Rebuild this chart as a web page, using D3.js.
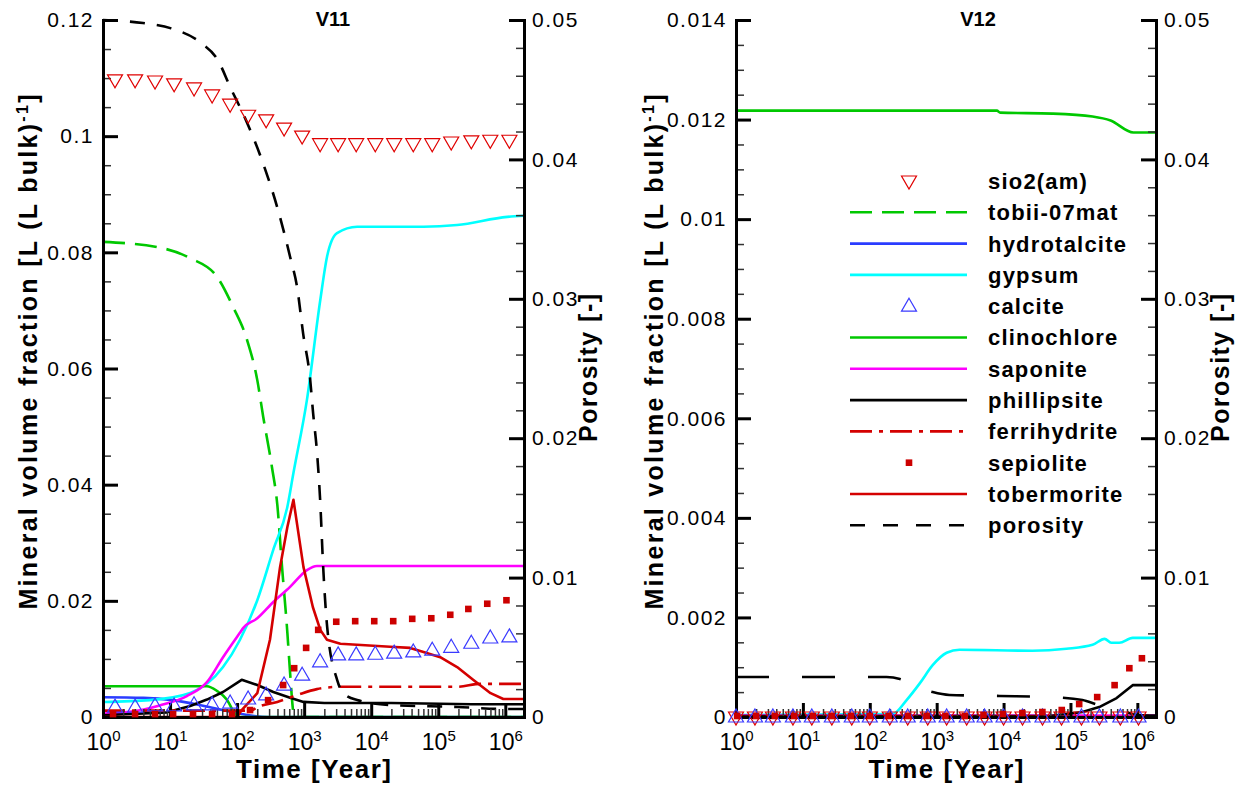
<!DOCTYPE html>
<html>
<head>
<meta charset="utf-8">
<script src="https://cdn.jsdelivr.net/npm/d3@7"></script>
<style>
  body { margin: 0; background: #fff; }
  svg { display: block; }
  text { font-family: 'Liberation Sans', Arial, Helvetica, sans-serif; fill: #000; }
</style>
</head>
<body>
<svg id="chart" width="1253" height="787"></svg>
<script>
// ---------------- V11 ----------------
const v11MarkerYears = [1.51, 3.01, 5.97, 11.5, 22.8, 42.4, 78.7, 146, 271, 502, 933, 1730, 3210, 5970, 11500, 22000, 42400, 81300, 156000, 311000, 597000, 1150000];
const v11Sio2 = [0.1097, 0.1097, 0.1095, 0.1090, 0.1083, 0.1071, 0.1055, 0.1036, 0.1028, 0.1014, 0.1000, 0.0987, 0.0987, 0.0987, 0.0987, 0.0987, 0.0987, 0.0987, 0.0990, 0.0992, 0.0993, 0.0993];
const v11Calcite = [0.0017, 0.0017, 0.0019, 0.0019, 0.0021, 0.0021, 0.0024, 0.0031, 0.0038, 0.0055, 0.0072, 0.0095, 0.0107, 0.0107, 0.0108, 0.0110, 0.0112, 0.0115, 0.0120, 0.0127, 0.0136, 0.0138];
const v11SepioliteYears = [1.41, 3.01, 5.97, 11.1, 22.0, 42.4, 84.1, 156, 290, 486, 710, 1070, 1620, 3010, 5770, 11100, 21300, 40900, 78700, 151000, 281000, 538000, 1040000];
const v11Sepiolite = [0.0005, 0.0005, 0.0005, 0.0005, 0.0005, 0.0005, 0.0005, 0.0012, 0.0029, 0.0055, 0.0084, 0.0119, 0.0150, 0.0164, 0.0165, 0.0165, 0.0165, 0.0169, 0.0170, 0.0176, 0.0186, 0.0195, 0.0201];

const v11TobiiYears = [1, 6.46, 20, 50.1, 87.1, 141, 200, 245, 331, 398, 468, 562, 617, 692, 724, 1900000];
const v11Tobii = [0.0818, 0.0809, 0.0790, 0.0758, 0.0706, 0.0649, 0.0580, 0.0517, 0.0430, 0.0365, 0.0258, 0.0145, 0.0076, 0.0007, 0, 0];
const v11HydroYears = [1, 4, 11, 35, 90, 150, 300, 1900000];
const v11Hydro = [0.0034, 0.0033, 0.0029, 0.0018, 0.0008, 0.0003, 0, 0];
const v11GypsumYears = [1, 5, 20, 61.7, 110, 200, 347, 562, 692, 1100, 1740, 2190, 3090, 6170, 60300, 191000, 1070000, 1900000];
const v11Gypsum = [0.00258, 0.0029, 0.00413, 0.0086, 0.01326, 0.0201, 0.0288, 0.0362, 0.0420, 0.0546, 0.0718, 0.0792, 0.0833, 0.0844, 0.0844, 0.0847, 0.0861, 0.0863];
const v11ClinoYears = [1, 35.5, 50, 70, 93, 100, 1900000];
const v11Clino = [0.0053, 0.0053, 0.0045, 0.0030, 0.0005, 0, 0];
const v11SaponiteYears = [1, 2.51, 7, 17.8, 35.5, 61.7, 110, 123, 200, 347, 617, 1100, 1550, 1900000];
const v11Saponite = [0.0006, 0.0009, 0.0020, 0.0036, 0.0060, 0.0103, 0.0145, 0.0153, 0.0170, 0.0198, 0.0224, 0.0253, 0.0260, 0.0260];
const v11PhilYears = [1, 9, 20, 35.5, 61.7, 117, 200, 347, 617, 977, 2000, 20000, 316000, 1900000];
const v11Phil = [0.0003, 0.0008, 0.0019, 0.0030, 0.0043, 0.0064, 0.0055, 0.0043, 0.0033, 0.0026, 0.0024, 0.0024, 0.0022, 0.0022];
const v11FerriYears = [1, 160, 200, 398, 794, 1550, 3470, 191000, 427000, 1900000];
const v11Ferri = [0.0011, 0.0011, 0.0017, 0.0026, 0.0038, 0.0048, 0.0052, 0.0052, 0.0057, 0.0057];
const v11TobermYears = [1, 100, 117, 200, 309, 437, 562, 692, 977, 1350, 1740, 2190, 3470, 19100, 38000, 60300, 107000, 191000, 331000, 603000, 933000, 1900000];
const v11Toberm = [0, 0, 0.0012, 0.0041, 0.0133, 0.0258, 0.0327, 0.0374, 0.0258, 0.0189, 0.0150, 0.0133, 0.0126, 0.0121, 0.0119, 0.0112, 0.0103, 0.0086, 0.0064, 0.0041, 0.0031, 0.0031];
const v11PorosityYears = [1, 3.95, 10.4, 28.1, 52.0, 78.7, 136, 253, 395, 618, 787, 966, 1230, 1360, 1560, 1730, 1920, 2200, 3110, 3820, 6180, 19200, 192000, 1000000, 1900000];
const v11Porosity = [0.0500, 0.04978, 0.0494, 0.0484, 0.0471, 0.0452, 0.0428, 0.0395, 0.0366, 0.0330, 0.0308, 0.0275, 0.0242, 0.0218, 0.0189, 0.0156, 0.0108, 0.0065, 0.00265, 0.00172, 0.00122, 0.00086, 0.00072, 0.00057, 0.00057];

// ---------------- V12 ----------------
const v12MarkerYears = [1.0, 1.92, 3.56, 7.10, 13.6, 27.1, 53.8, 100, 199, 369, 735, 1410, 2810, 5200, 10000, 19200, 38200, 73500, 146000, 271000, 557000, 1040000];
const v12Sio2 = [0, 0, 0, 0, 0, 0, 0, 0, 0, 0, 0, 0, 0, 0, 0, 0, 0, 0, 0, 0, 0, 0];
const v12Calcite = [0, 0, 0, 0, 0, 0, 0, 0, 0, 0, 0, 0, 0, 0, 0, 0, 0, 0, 0, 0, 0, 0];
const v12SepioliteYears = [1.04, 2.0, 3.8, 7.4, 14.1, 26.9, 52.5, 100, 191, 372, 708, 1350, 2630, 5010, 9770, 19100, 38000, 74100, 135000, 251000, 457000, 759000, 1170000];
const v12Sepiolite = [0.00002, 0.00002, 0.00002, 0.00002, 0.00002, 0.00002, 0.00002, 0.00002, 0.00002, 0.00002, 0.00002, 0.00002, 0.00002, 0.00004, 0.00006, 0.00008, 0.0001, 0.00014, 0.00026, 0.0004, 0.00064, 0.00098, 0.00118];

const v12ZeroYears = [1, 1900000];
const v12Zero = [0, 0];
const v12Saponite = [0.00003, 0.00003];
const v12GypsumYears = [1, 219, 355, 562, 871, 1410, 2190, 26900, 87100, 214000, 324000, 407000, 537000, 851000, 1900000];
const v12Gypsum = [0.00004, 0.00006, 0.00034, 0.00068, 0.00104, 0.00129, 0.00135, 0.00133, 0.00137, 0.00145, 0.00157, 0.00149, 0.00149, 0.00159, 0.00159];
const v12ClinoYears = [1, 7940, 8900, 53700, 214000, 398000, 871000, 1900000];
const v12Clino = [0.01218, 0.01218, 0.01214, 0.01212, 0.01206, 0.01198, 0.01174, 0.01174];
const v12PhilYears = [1, 49000, 151000, 269000, 490000, 851000, 1900000];
const v12Phil = [0.00002, 0.00002, 0.0001, 0.0002, 0.00038, 0.00064, 0.00064];
const v12PorosityYears = [1, 178, 282, 437, 871, 1550, 8710, 49000, 151000, 269000, 490000, 977000, 1900000];
const v12Porosity = [0.00287, 0.00287, 0.00273, 0.00230, 0.00179, 0.00158, 0.00151, 0.00143, 0.00122, 0.00086, 0.00065, 0.00014, 0.0001];

// ---------------- axes ----------------
const timeTicks = [1, 10, 100, 1000, 10000, 100000, 1000000];
const timeExponents = ["0", "1", "2", "3", "4", "5", "6"];
const v11MineralTicks = [0, 0.02, 0.04, 0.06, 0.08, 0.1, 0.12];
const v12MineralTicks = [0, 0.002, 0.004, 0.006, 0.008, 0.01, 0.012, 0.014];
const porosityTicks = [0, 0.01, 0.02, 0.03, 0.04, 0.05];

const FONT = "'Liberation Sans', Arial, Helvetica, sans-serif";
const plotTop = 20, plotBottom = 717;
const timeDomain = [1, 1.9e6];

const pair = (years, values) => years.map((t, i) => ({ t, v: values[i] }));

const seriesStyle = [
  { key: "sio2",      label: "sio2(am)",     kind: "triDown", color: "#e00000" },
  { key: "tobii",     label: "tobii-07mat",  kind: "line",    color: "#00c800", dash: "22,10" },
  { key: "hydro",     label: "hydrotalcite", kind: "line",    color: "#2a3cff" },
  { key: "gypsum",    label: "gypsum",       kind: "line",    color: "#00ffff" },
  { key: "calcite",   label: "calcite",      kind: "triUp",   color: "#3a3aff" },
  { key: "clino",     label: "clinochlore",  kind: "line",    color: "#00c800" },
  { key: "saponite",  label: "saponite",     kind: "line",    color: "#ff00ff" },
  { key: "phil",      label: "phillipsite",  kind: "line",    color: "#000000", sharp: true },
  { key: "ferri",     label: "ferrihydrite", kind: "line",    color: "#d40000", dash: "22,7,4,7" },
  { key: "sepiolite", label: "sepiolite",    kind: "square",  color: "#cc0000" },
  { key: "toberm",    label: "tobermorite",  kind: "line",    color: "#d40000", sharp: true },
  { key: "porosity",  label: "porosity",     kind: "line",    color: "#000000", porosity: true }
];

const panels = [
  {
    title: "V11", titleX: 333, x0: 103, x1: 524, mineralMax: 0.12, mineralTicks: v11MineralTicks, mineralMinorStep: 0.005,
    yTitleX: 37, porTitleX: 597, porDash: "15,12", legend: false,
    data: {
      sio2: pair(v11MarkerYears, v11Sio2),
      tobii: pair(v11TobiiYears, v11Tobii),
      hydro: pair(v11HydroYears, v11Hydro),
      gypsum: pair(v11GypsumYears, v11Gypsum),
      calcite: pair(v11MarkerYears, v11Calcite),
      clino: pair(v11ClinoYears, v11Clino),
      saponite: pair(v11SaponiteYears, v11Saponite),
      phil: pair(v11PhilYears, v11Phil),
      ferri: pair(v11FerriYears, v11Ferri),
      sepiolite: pair(v11SepioliteYears, v11Sepiolite),
      toberm: pair(v11TobermYears, v11Toberm),
      porosity: pair(v11PorosityYears, v11Porosity)
    }
  },
  {
    title: "V12", titleX: 978, x0: 736, x1: 1156, mineralMax: 0.014, mineralTicks: v12MineralTicks, mineralMinorStep: 0.0005,
    yTitleX: 663, porTitleX: 1229, porDash: "33,33", legend: true,
    data: {
      sio2: pair(v12MarkerYears, v12Sio2),
      tobii: pair(v12ZeroYears, v12Zero),
      hydro: pair(v12ZeroYears, v12Zero),
      gypsum: pair(v12GypsumYears, v12Gypsum),
      calcite: pair(v12MarkerYears, v12Calcite),
      clino: pair(v12ClinoYears, v12Clino),
      saponite: pair(v12ZeroYears, v12Saponite),
      phil: pair(v12PhilYears, v12Phil),
      ferri: pair(v12ZeroYears, v12Zero),
      sepiolite: pair(v12SepioliteYears, v12Sepiolite),
      toberm: pair(v12ZeroYears, v12Zero),
      porosity: pair(v12PorosityYears, v12Porosity)
    }
  }
];

const svg = d3.select("#chart");

const triDownPath = "M-7.5,-5L7.5,-5L0,8Z";
const triUpPath = "M0,-8L7.5,5L-7.5,5Z";

function drawMarker(g, kind, color, cx, cy) {
  if (kind === "triDown" || kind === "triUp") {
    g.append("path")
      .attr("d", kind === "triDown" ? triDownPath : triUpPath)
      .attr("transform", `translate(${cx},${cy})`)
      .attr("fill", "none").attr("stroke", color).attr("stroke-width", 1.2);
  } else {
    g.append("rect")
      .attr("x", cx - 3.3).attr("y", cy - 3.3).attr("width", 6.6).attr("height", 6.6)
      .attr("fill", color);
  }
}

const fmtTick = d => String(+d.toFixed(4));

function styleAxis(sel, major) {
  sel.selectAll(".tick line").attr("stroke", major ? "#000" : "#333").attr("stroke-width", major ? 3 : 1.5);
  sel.select(".domain").attr("stroke", "#000").attr("stroke-width", 3).attr("stroke-linecap", "square");
  sel.selectAll(".tick text").attr("font-family", FONT).attr("font-size", 21).attr("letter-spacing", 1.5).attr("fill", "#000");
}

panels.forEach(p => {
  const x = d3.scaleLog().domain(timeDomain).range([p.x0, p.x1]);
  const yMin = d3.scaleLinear().domain([0, p.mineralMax]).range([plotBottom, plotTop]);
  const yPor = d3.scaleLinear().domain([0, 0.05]).range([plotBottom, plotTop]);
  const g = svg.append("g");

  // curves
  const lineLayer = g.append("g");
  seriesStyle.filter(s => s.kind === "line").forEach(s => {
    const y = s.porosity ? yPor : yMin;
    const gen = d3.line().x(d => x(d.t)).y(d => y(d.v))
      .curve(s.sharp ? d3.curveLinear : d3.curveMonotoneX);
    lineLayer.append("path")
      .datum(p.data[s.key])
      .attr("d", gen)
      .attr("fill", "none")
      .attr("stroke", s.color)
      .attr("stroke-width", 2.6)
      .attr("stroke-linejoin", "round")
      .attr("stroke-dasharray", s.porosity ? p.porDash : (s.dash || null));
  });

  // axes: minor ticks
  const minorMineral = d3.range(0, p.mineralMax + 1e-9, p.mineralMinorStep)
    .filter(v => !p.mineralTicks.some(t => Math.abs(t - v) < 1e-9));
  const minorPor = d3.range(0, 0.05 + 1e-9, 0.002)
    .filter(v => !porosityTicks.some(t => Math.abs(t - v) < 1e-9));
  const minorTime = [];
  for (let k = 0; k < 7; k++) for (let m = 2; m <= 9; m++) {
    const v = m * Math.pow(10, k);
    if (v <= timeDomain[1]) minorTime.push(v);
  }

  const mLeft = g.append("g").attr("transform", `translate(${p.x0},0)`)
    .call(d3.axisLeft(yMin).tickValues(minorMineral).tickSize(-8).tickFormat(""));
  mLeft.select(".domain").remove(); styleAxis(mLeft, false);
  const mRight = g.append("g").attr("transform", `translate(${p.x1},0)`)
    .call(d3.axisRight(yPor).tickValues(minorPor).tickSize(-8).tickFormat(""));
  mRight.select(".domain").remove(); styleAxis(mRight, false);
  const mBottom = g.append("g").attr("transform", `translate(0,${plotBottom})`)
    .call(d3.axisBottom(x).tickValues(minorTime).tickSize(-8).tickFormat(""));
  mBottom.select(".domain").remove(); styleAxis(mBottom, false);

  // axes: major ticks
  const aLeft = g.append("g").attr("transform", `translate(${p.x0},0)`)
    .call(d3.axisLeft(yMin).tickValues(p.mineralTicks).tickSize(-15).tickSizeOuter(0).tickPadding(9).tickFormat(fmtTick));
  styleAxis(aLeft, true);
  const aRight = g.append("g").attr("transform", `translate(${p.x1},0)`)
    .call(d3.axisRight(yPor).tickValues(porosityTicks).tickSize(-15).tickSizeOuter(0).tickPadding(8).tickFormat(fmtTick));
  styleAxis(aRight, true);
  const aBottom = g.append("g").attr("transform", `translate(0,${plotBottom})`)
    .call(d3.axisBottom(x).tickValues(timeTicks).tickSize(-14).tickSizeOuter(0).tickFormat(() => "10"));
  styleAxis(aBottom, true);
  aBottom.selectAll(".tick text")
    .attr("y", 33).attr("dy", null).attr("font-size", 23).attr("letter-spacing", 0)
    .each(function (d, i) {
      d3.select(this).append("tspan").attr("dy", -9).attr("font-size", 15).text(timeExponents[i]);
    });

  // markers
  const markerLayer = g.append("g");
  seriesStyle.filter(s => s.kind !== "line").forEach(s => {
    p.data[s.key].forEach(d => drawMarker(markerLayer, s.kind, s.color, x(d.t), yMin(d.v)));
  });

  // titles
  g.append("text").attr("x", p.titleX).attr("y", 26).attr("text-anchor", "middle")
    .attr("font-size", 20).attr("font-weight", "bold").text(p.title);

  g.append("text").attr("x", (p.x0 + p.x1) / 2).attr("y", 778).attr("text-anchor", "middle")
    .attr("font-size", 26).attr("font-weight", "bold")
    .attr("textLength", 155).attr("lengthAdjust", "spacing").text("Time [Year]");

  const yt = g.append("text")
    .attr("transform", `translate(${p.yTitleX},352) rotate(-90)`)
    .attr("text-anchor", "middle").attr("font-size", 25).attr("font-weight", "bold")
    .attr("textLength", 515).attr("lengthAdjust", "spacing");
  yt.append("tspan").text("Mineral volume fraction [L (L bulk)");
  yt.append("tspan").attr("dy", -9).attr("font-size", 16).text("-1");
  yt.append("tspan").attr("dy", 9).text("]");

  g.append("text")
    .attr("transform", `translate(${p.porTitleX},368) rotate(-90)`)
    .attr("text-anchor", "middle").attr("font-size", 25).attr("font-weight", "bold")
    .attr("textLength", 148).attr("lengthAdjust", "spacing").text("Porosity [-]");

  // legend
  if (p.legend) {
    const lg = g.append("g");
    const lx1 = 850, lx2 = 967, tx = 988, y0 = 181, step = 31.3;
    seriesStyle.forEach((s, i) => {
      const cy = y0 + i * step;
      if (s.kind === "line") {
        lg.append("line").attr("x1", lx1).attr("x2", lx2).attr("y1", cy).attr("y2", cy)
          .attr("stroke", s.color).attr("stroke-width", 2.6)
          .attr("stroke-dasharray", s.porosity ? "15,18" : (s.dash || null));
      } else {
        drawMarker(lg, s.kind, s.color, (lx1 + lx2) / 2 + 0.5, cy);
      }
      lg.append("text").attr("x", tx).attr("y", cy).attr("dy", "0.36em")
        .attr("font-size", 22).attr("font-weight", "bold").attr("letter-spacing", 1.2)
        .text(s.label);
    });
  }
});
</script>
</body>
</html>
